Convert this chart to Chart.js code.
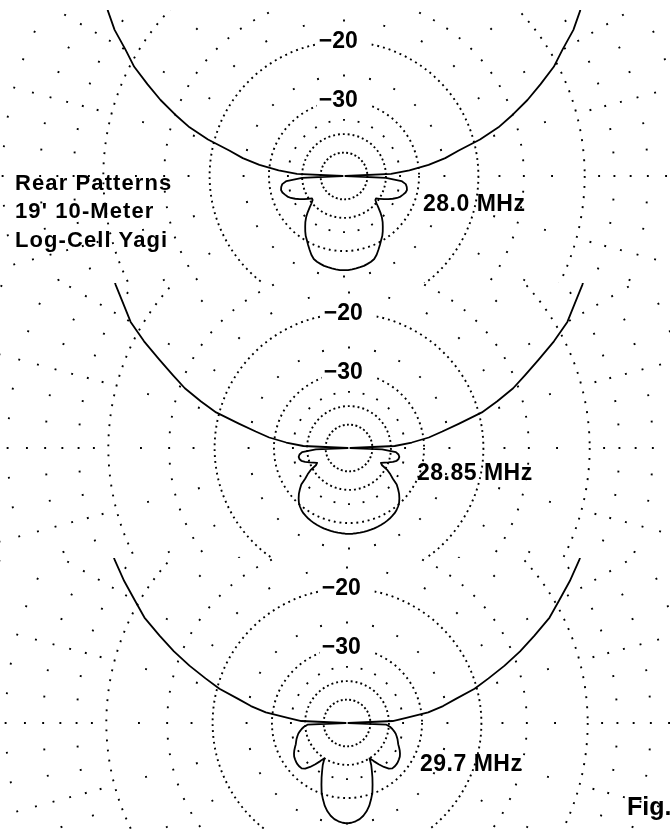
<!DOCTYPE html>
<html>
<head>
<meta charset="utf-8">
<script src="https://cdn.jsdelivr.net/npm/chart.js@4.4.1/dist/chart.umd.min.js"></script>
<style>
  body { margin: 0; background: #fff; }
  #page { position: relative; width: 670px; height: 829px; overflow: hidden; background: #fff;
          font-family: "Liberation Sans", Arial, sans-serif; font-weight: bold; color: #000; }
  .band { position: absolute; left: 0; width: 670px; overflow: hidden; }
  .band canvas { position: absolute; left: 0; top: 0; }
  .txt { position: absolute; white-space: nowrap; line-height: 1; }
</style>
</head>
<body>
<div id="page">
  <div class="band" style="top:10px;height:273px"><canvas id="c0" width="889" height="889"></canvas></div>
  <div class="band" style="top:283px;height:275px"><canvas id="c1" width="889" height="889"></canvas></div>
  <div class="band" style="top:558px;height:271px"><canvas id="c2" width="889" height="889"></canvas></div>

  <div class="txt" style="left:15px;top:172px;font-size:22px;letter-spacing:1.1px">Rear Patterns</div>
  <div class="txt" style="left:15px;top:200px;font-size:22px;letter-spacing:1.1px">19' 10-Meter</div>
  <div class="txt" style="left:15px;top:229px;font-size:22px;letter-spacing:1.1px">Log-Cell Yagi</div>

  <div class="txt" id="f0" style="left:423px;top:192px;font-size:23px;letter-spacing:0.5px"></div>
  <div class="txt" id="f1" style="left:417px;top:461px;font-size:23px;letter-spacing:0.5px"></div>
  <div class="txt" id="f2" style="left:420px;top:752px;font-size:23px;letter-spacing:0.5px"></div>
  <div class="txt" style="left:627px;top:794px;font-size:25px">Fig.</div>
</div>
<script>
// azimuth step of the tables, degrees; 0 = forward (up), 180 = rear (down)
const stepDeg = 2.5;

// one half of each azimuth pattern, 0..180 deg, dB relative to the forward max
const pattern280 = [
  0, 0, -0.02, -0.05, -0.1, -0.17, -0.26, -0.38, -0.52, -0.7, -0.9, -1.15, -1.45, -1.8, -2.2, -2.6,
  -3.1, -3.6, -4.2, -4.8, -5.4, -6.1,
  -6.9, -7.9, -9.2, -10.3, -11.8, -13.3, -15.0, -16.8, -19.2, -22.3, -24.6, -27.8, -32.3, -38.0, -99,
  -40, -34.5, -33.2, -32.8, -32.6, -32.8, -33.3, -33.8, -34.6, -35.7,
  -37.0, -38.3, -39.8, -41.2, -41.0, -39.8, -38.2, -36.5, -35.0, -33.8,
  -32.8, -31.8, -30.9, -30.2, -29.4, -28.6, -27.8, -27.2, -26.9, -26.7,
  -26.5, -26.4, -26.3, -26.2, -26.1, -26.1
];
const pattern2885 = [
  0, 0, -0.02, -0.05, -0.1, -0.17, -0.26, -0.38, -0.52, -0.7, -0.9, -1.15, -1.45, -1.8, -2.2, -2.6,
  -3.1, -3.6, -4.2, -4.8, -5.4, -6.1,
  -7.1, -8.2, -9.2, -10.7, -12.4, -14.0, -15.5, -17.5, -19.6, -23.0, -26.0, -28.8, -33.0, -38.5, -99,
  -44, -38, -37.0, -36.6, -36.7, -37.2, -38.4, -40.0, -41.6, -43.0,
  -42.0, -39.0, -37.3, -35.8, -33.8, -32.7, -31.7, -30.9, -30.2, -29.7,
  -29.3, -29.0, -28.8, -28.6, -28.45, -28.3, -28.2, -28.1, -28.0, -27.95,
  -27.9, -27.85, -27.8, -27.75, -27.7, -27.7
];
const pattern297 = [
  0, 0, -0.02, -0.05, -0.1, -0.17, -0.26, -0.38, -0.52, -0.7, -0.9, -1.15, -1.45, -1.8, -2.2, -2.6,
  -3.1, -3.6, -4.2, -4.8, -5.4, -6.1,
  -7.2, -8.4, -9.7, -10.9, -12.6, -14.3, -16.2, -18.3, -20.3, -23.2, -25.5, -28.5, -34.0, -38.5, -99,
  -41, -39.5, -38.5, -37.7, -37.0, -36.5, -36.0, -35.6, -35.2, -34.6,
  -34.0, -33.5, -33.1, -32.9, -32.7, -32.6, -32.6, -32.7, -33.3, -34.6,
  -36.3, -38.2, -40.0, -37.5, -35.7, -33.8, -32.0, -30.2, -28.9, -27.7,
  -26.8, -26.1, -25.6, -25.3, -25.1, -25.0
];

const freqLabels = ['28.0 MHz', '28.85 MHz', '29.7 MHz'];
const ringDb = [-50, -40, -30, -20, -10, 0];
const labelledRings = [-20, -30];

// where each plot's centre sits inside its band
const centers = [[344, 166], [349, 165], [347, 165]];

// ARRL log scale: every 10 dB shrinks the radius by 0.89^5
const arrl = db => Math.pow(0.89, -db / 2);

function fullCircle(half) {
  const n = 360 / stepDeg, h = 180 / stepDeg;
  const out = [];
  for (let i = 0; i < n; i++) out.push(arrl(half[i <= h ? i : n - i]));
  return out;
}

const angleLabels = [];
for (let a = 0; a < 360; a += stepDeg) angleLabels.push(String(a));

// dotted spokes: dots sit at fixed dB steps
const majorDots = [-1, -2, -3, -4, -5, -6, -7, -8, -9, -12.5, -15, -17.5, -25, -35];
const minorDots = [-2, -4, -6, -8, -15];

const DOT = 1.9;

function spokeDash(ctx) {
  const scale = ctx.chart.scales.r;
  const deg = ctx.index * stepDeg;
  const list = deg % 15 === 0 ? majorDots : minorDots;
  const radii = list.map(d => scale.getDistanceFromCenterForValue(arrl(d))).sort((a, b) => a - b);
  const dash = [0];
  let pos = 0;
  radii.forEach(r => { dash.push(Math.max(0, r - DOT / 2 - pos), DOT); pos = r + DOT / 2; });
  dash.push(3000);
  return dash;
}

const ringGap = { '-50': 2.4, '-40': 3.0, '-30': 3.8, '-20': 4.0, '-10': 8.2, '0': 8.2 };

function tickDb(value) {
  let best = 0, dmin = 1e9;
  ringDb.forEach(d => { const e = Math.abs(arrl(d) - value); if (e < dmin) { dmin = e; best = d; } });
  return best;
}

function makeChart(id, half, k) {
  const chart = new Chart(document.getElementById(id), {
    type: 'radar',
    data: {
      labels: angleLabels,
      datasets: [{
        data: fullCircle(half),
        borderColor: '#000',
        borderWidth: 1.8,
        borderJoinStyle: 'round',
        pointRadius: 0,
        fill: false,
        tension: 0
      }]
    },
    options: {
      responsive: false,
      devicePixelRatio: 1,
      animation: false,
      events: [],
      plugins: { legend: { display: false }, tooltip: { enabled: false } },
      scales: {
        r: {
          min: 0,
          max: 1,
          startAngle: 0,
          afterBuildTicks: scale => {
            scale.ticks = [{ value: 0 }].concat(ringDb.map(d => ({ value: arrl(d) })));
          },
          pointLabels: { display: false },
          ticks: {
            color: '#000',
            font: { family: 'Liberation Sans', size: 23, weight: 'bold' },
            backdropColor: '#fff',
            backdropPadding: 2,
            showLabelBackdrop: ctx => !!(ctx.tick && ctx.tick.label),
            callback: value => {
              const d = tickDb(value);
              // trailing en space nudges the centred label a little to the left
              return labelledRings.includes(d) ? '\u2212' + Math.abs(d) + '\u2002' : '';
            }
          },
          grid: { circular: true, color: '#000', lineWidth: DOT },
          border: {
            dash: ctx => [DOT, ringGap[String(tickDb(ctx.tick.value))] || 5]
          },
          angleLines: {
            display: true,
            color: '#000',
            lineWidth: ctx => (ctx.index % 2 === 0 ? DOT : 0),
            borderDash: spokeDash
          }
        }
      }
    }
  });
  const r = chart.scales.r;
  const canvas = document.getElementById(id);
  canvas.style.left = (centers[k][0] - r.xCenter) + 'px';
  canvas.style.top = (centers[k][1] - r.yCenter) + 'px';
  document.getElementById('f' + k).textContent = freqLabels[k];
  return chart;
}

makeChart('c0', pattern280, 0);
makeChart('c1', pattern2885, 1);
makeChart('c2', pattern297, 2);
</script>
</body>
</html>
